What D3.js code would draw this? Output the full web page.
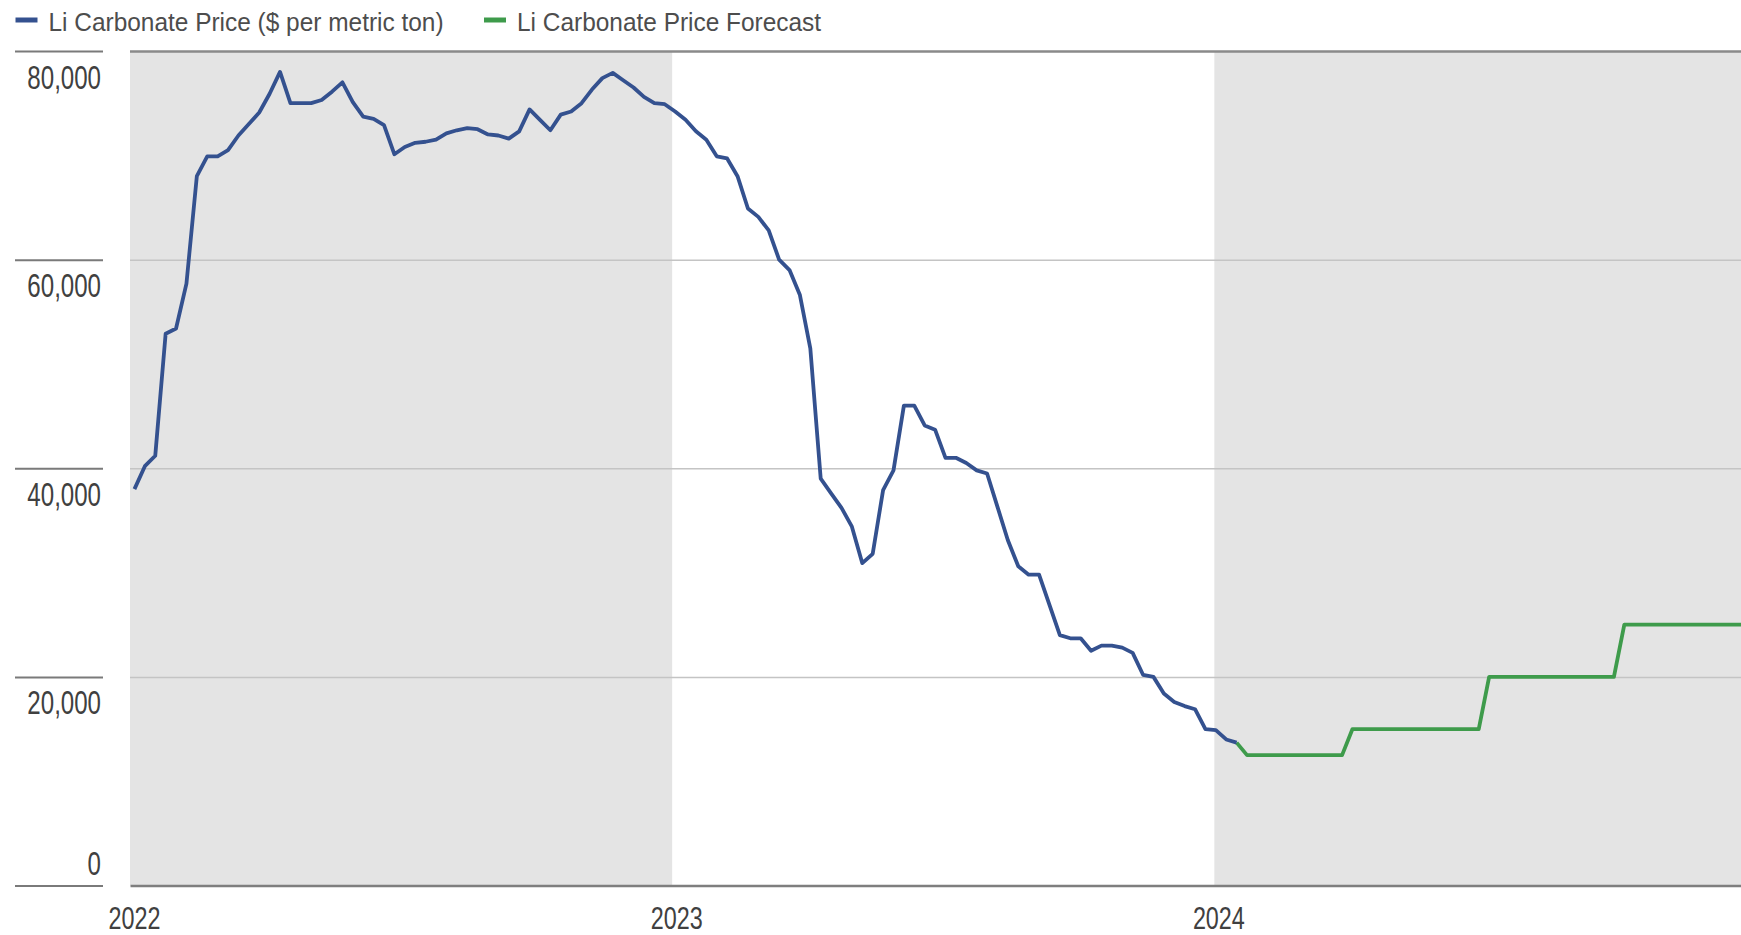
<!DOCTYPE html>
<html>
<head>
<meta charset="utf-8">
<script src="https://cdn.jsdelivr.net/npm/d3@7"></script>
<style>
  body { margin: 0; background: #fff; }
  svg { display: block; }
  text { font-family: "Liberation Sans", Arial, sans-serif; }
</style>
</head>
<body>
<svg width="1741" height="935"></svg>
<script>
// weekly lithium carbonate price, $ per metric ton, one value per week
var priceStart = "2022-01-04";
var priceValues = [
  38000, 40200, 41200, 52900, 53400, 57700, 68000, 69900, 69900, 70500,
  71900, 73000, 74100, 75900, 78000, 75000, 75000, 75000, 75300, 76100,
  77000, 75100, 73700, 73500, 72900, 70100, 70800, 71200, 71300, 71500,
  72100, 72400, 72600, 72500, 72000, 71900, 71600, 72300, 74400, 73400,
  72400, 73900, 74200, 75000, 76300, 77400, 77900, 77200, 76500, 75600,
  75000, 74900, 74200, 73400, 72300, 71500, 69900, 69700, 68000, 64900,
  64100, 62800, 60000, 59000, 56600, 51500, 39000, 37600, 36200, 34400,
  30900, 31800, 37900, 39800, 46000, 46000, 44100, 43700, 41000, 41000,
  40500, 39800, 39500, 36300, 33100, 30600, 29800, 29800, 26900, 24000,
  23700, 23700, 22500, 23000, 23000, 22800, 22300, 20200, 20000, 18400,
  17600, 17200, 16900, 15000, 14900, 14000, 13700
];

// forecast corners (quarterly steps)
var forecastDates = ["2024-01-16", "2024-01-23", "2024-03-27", "2024-04-03", "2024-06-27",
                     "2024-07-04", "2024-09-26", "2024-10-03", "2024-12-31"];
var forecastValues = [13700, 12500, 12500, 15000, 15000, 20000, 20000, 25000, 25000];

var yearTicks = ["2022", "2023", "2024"];
var shadedYears = ["2022", "2024"];
var valueTicks = [0, 20000, 40000, 60000, 80000];
var seriesNames = ["Li Carbonate Price ($ per metric ton)", "Li Carbonate Price Forecast"];
var seriesColors = ["#34518f", "#3e9b4b"];

var parseDate = d3.timeParse("%Y-%m-%d");
var parseYear = d3.timeParse("%Y");

var svg = d3.select("svg"),
    W = +svg.attr("width"),
    plotLeft = 130, plotTop = 51, plotBottom = 885.5;

var x = d3.scaleTime()
    .domain([parseYear("2022"), parseYear("2025")])
    .range([plotLeft, 1758]);
var y = d3.scaleLinear().domain([0, 80000]).range([plotBottom, plotTop]);

var start = parseDate(priceStart);
var priceData = priceValues.map(function(v, i) {
    return {date: d3.timeDay.offset(start, 7 * i), value: v};
});
var forecastData = forecastDates.map(function(d, i) {
    return {date: parseDate(d), value: forecastValues[i]};
});

svg.append("clipPath").attr("id", "plot")
  .append("rect").attr("x", plotLeft).attr("y", 0).attr("width", W - plotLeft).attr("height", 935);

var plot = svg.append("g").attr("clip-path", "url(#plot)");

// shaded years
plot.selectAll(".band")
    .data(shadedYears)
  .enter().append("rect")
    .attr("class", "band")
    .attr("x", function(d) { return x(parseYear(d)); })
    .attr("width", function(d) { return x(d3.timeYear.offset(parseYear(d), 1)) - x(parseYear(d)); })
    .attr("y", plotTop)
    .attr("height", plotBottom - plotTop)
    .attr("fill", "#e4e4e4");

// gridlines
var grid = plot.append("g")
    .attr("transform", "translate(" + plotLeft + ",0)")
    .call(d3.axisLeft(y).tickValues(valueTicks.slice(1)).tickSize(-(W - plotLeft)).tickFormat(""));
grid.select(".domain").remove();
grid.selectAll(".tick line")
    .attr("stroke", function(d) { return d === 80000 ? "#8a8a8a" : "#c4c4c4"; })
    .attr("stroke-width", function(d) { return d === 80000 ? 2.5 : 1.5; });

var line = d3.line()
    .x(function(d) { return x(d.date); })
    .y(function(d) { return y(d.value); });

plot.append("path")
    .datum(forecastData)
    .attr("fill", "none")
    .attr("stroke", seriesColors[1])
    .attr("stroke-width", 3.8)
    .attr("stroke-linejoin", "round")
    .attr("d", line);

plot.append("path")
    .datum(priceData)
    .attr("fill", "none")
    .attr("stroke", seriesColors[0])
    .attr("stroke-width", 3.8)
    .attr("stroke-linejoin", "round")
    .attr("d", line);

// x axis
var xAxis = svg.append("g")
    .attr("transform", "translate(0," + plotBottom + ")")
    .call(d3.axisBottom(x).tickValues(yearTicks.map(parseYear)).tickSize(0).tickSizeOuter(0)
        .tickFormat(d3.timeFormat("%Y")));
xAxis.select(".domain").attr("stroke", "#7e7e7e").attr("stroke-width", 2.5);
xAxis.selectAll(".tick text")
    .attr("x", 0).attr("y", 0).attr("dy", 0)
    .attr("transform", "translate(4,43) scale(0.73,1)")
    .attr("font-size", 32)
    .attr("fill", "#404040");

// y axis labels with separator lines on the left
var yAxis = svg.append("g")
    .attr("transform", "translate(103,0)")
    .call(d3.axisLeft(y).tickValues(valueTicks).tickSize(88).tickFormat(d3.format(",")));
yAxis.select(".domain").remove();
yAxis.selectAll(".tick line").attr("stroke", "#7a7a7a").attr("stroke-width", 2);
yAxis.selectAll(".tick text")
    .attr("x", 0).attr("dy", 0)
    .attr("text-anchor", "end")
    .attr("transform", function(d) { return "translate(-2," + (d === 0 ? -11.5 : 37) + ") scale(0.73,1)"; })
    .attr("font-size", 33)
    .attr("fill", "#404040");

// legend
var legendX = [15.5, 484];
var legend = svg.selectAll(".legend")
    .data(seriesNames)
  .enter().append("g")
    .attr("class", "legend")
    .attr("transform", function(d, i) { return "translate(" + legendX[i] + ",20)"; });
legend.append("line")
    .attr("x1", 0).attr("x2", 22)
    .attr("stroke", function(d, i) { return seriesColors[i]; })
    .attr("stroke-width", 5);
legend.append("text")
    .attr("transform", "translate(33,10.5) scale(0.94,1)")
    .attr("font-size", 26)
    .attr("fill", "#4d4d4d")
    .text(function(d) { return d; });
</script>
</body>
</html>
